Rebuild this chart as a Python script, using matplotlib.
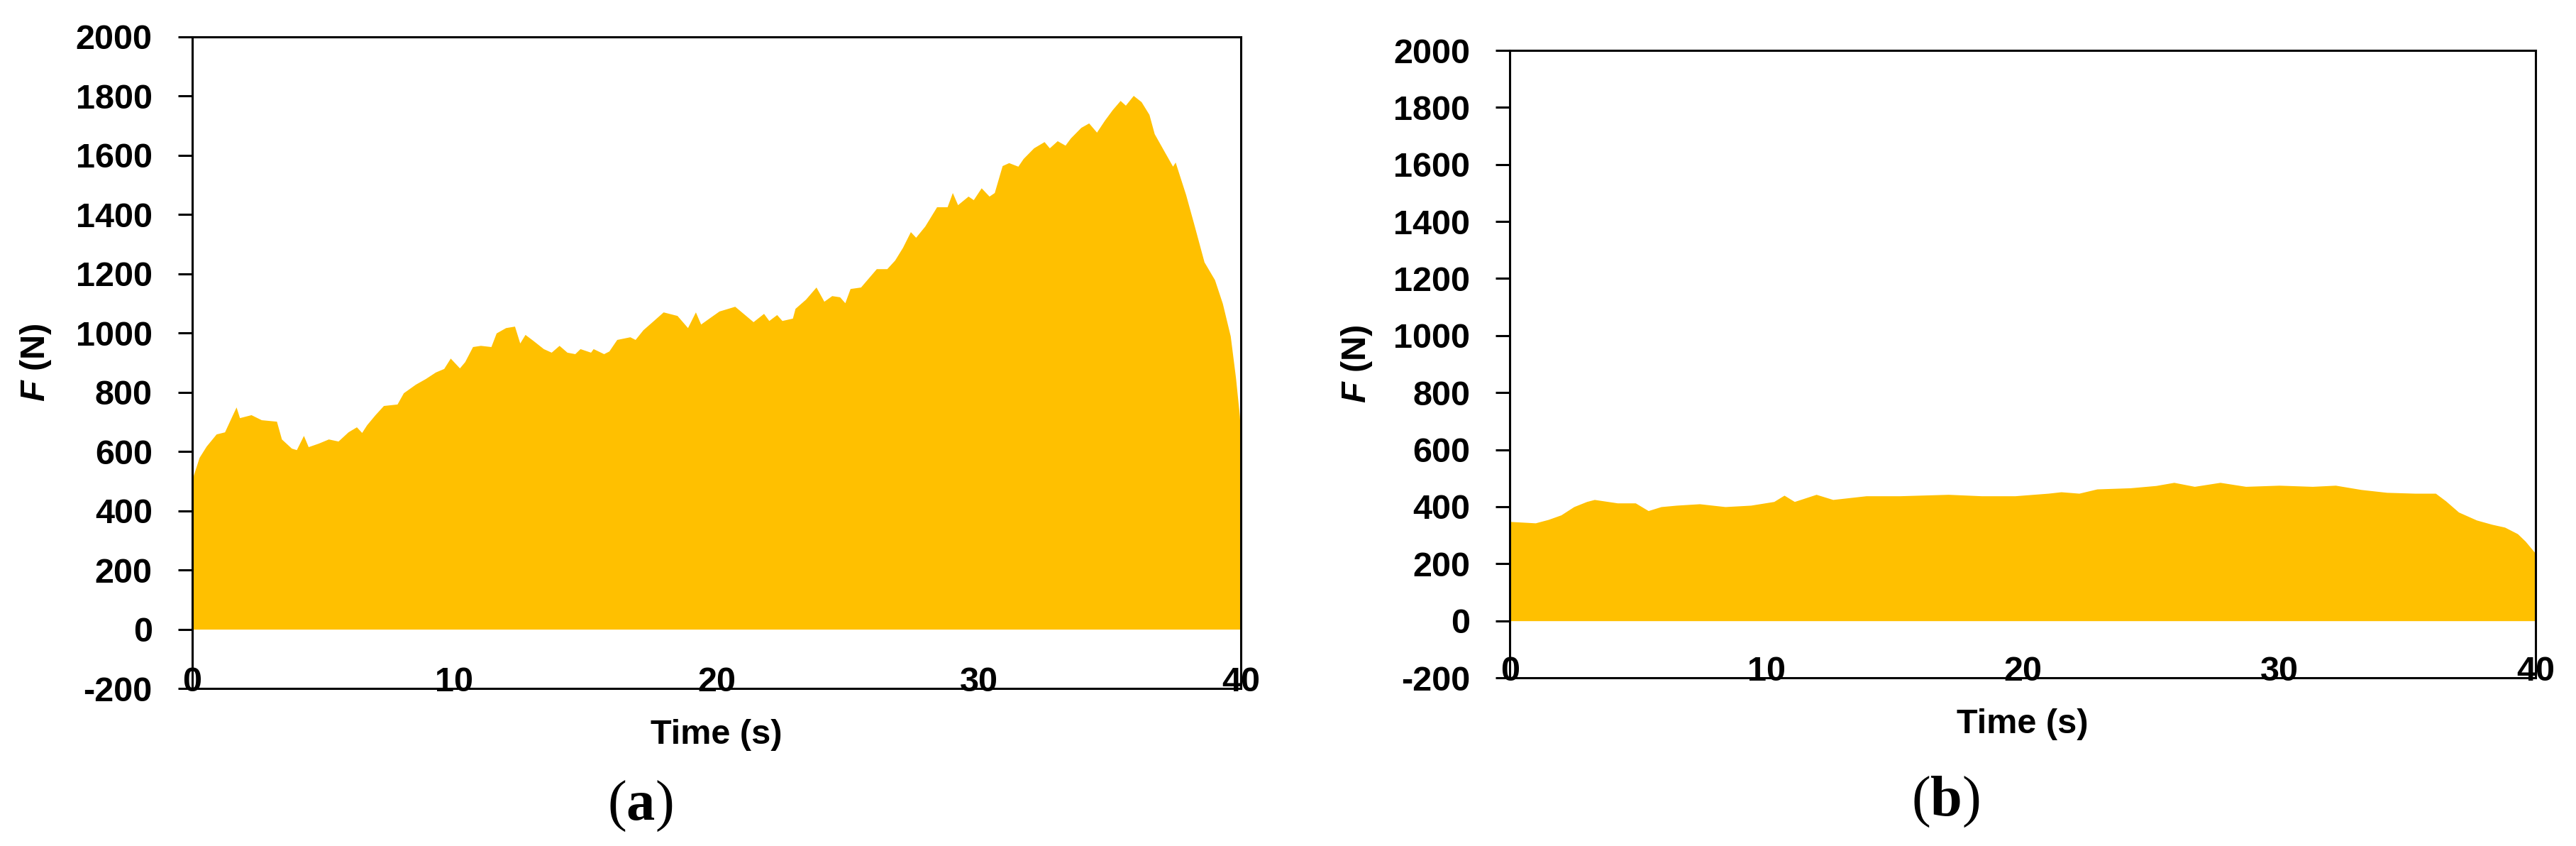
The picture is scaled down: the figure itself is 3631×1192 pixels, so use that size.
import matplotlib
matplotlib.use('Agg')
import matplotlib.pyplot as plt

# =====================================================================
# DATOS (envolvente de la fuerza)
# =====================================================================
t_a = [0.0, 0.05, 0.27, 0.54, 0.92, 1.24, 1.49, 1.68, 1.81, 2.25,
       2.64, 3.22, 3.41, 3.79, 3.98, 4.25, 4.43, 4.82, 5.2, 5.57,
       5.95, 6.27, 6.47, 6.66, 6.98, 7.3, 7.82, 8.06, 8.52, 8.9,
       9.28, 9.6, 9.85, 10.2, 10.4, 10.7, 11.0, 11.4, 11.6, 11.96,
       12.3, 12.5, 12.7, 13.0, 13.4, 13.7, 14.0, 14.3, 14.6, 14.8,
       15.2, 15.3, 15.7, 15.9, 16.2, 16.7, 16.9, 17.2, 17.6, 17.97,
       18.5, 18.9, 19.2, 19.4, 19.7, 20.1, 20.7, 21.4, 21.8, 22.0,
       22.3, 22.5, 22.9, 23.0, 23.4, 23.8, 24.1, 24.4, 24.7, 24.9,
       25.1, 25.5, 25.8, 26.1, 26.5, 26.8, 27.1, 27.4, 27.6, 27.95,
       28.4, 28.8, 29.0, 29.2, 29.6, 29.8, 30.1, 30.4, 30.6, 30.9,
       31.15, 31.5, 31.7, 32.1, 32.5, 32.7, 33.0, 33.3, 33.5, 33.9,
       34.2, 34.5, 34.8, 35.1, 35.4, 35.6, 35.9, 36.2, 36.5, 36.7,
       37.1, 37.4, 37.5, 37.9, 38.2, 38.6, 39.0, 39.3, 39.6, 39.8,
       39.95, 40.0]
f_a = [480, 520, 580, 618, 659, 666, 714, 750, 714, 724,
       707, 702, 642, 611, 606, 654, 616, 628, 642, 635,
       666, 683, 664, 690, 724, 755, 760, 798, 827, 846,
       868, 880, 915, 882, 903, 954, 958, 954, 1000, 1018,
       1023, 966, 995, 975, 947, 935, 958, 935, 930, 947,
       935, 947, 930, 939, 978, 987, 978, 1011, 1042, 1071,
       1059, 1018, 1071, 1030, 1049, 1074, 1090, 1038, 1066, 1042,
       1062, 1042, 1050, 1083, 1114, 1155, 1107, 1126, 1122, 1102,
       1150, 1155, 1186, 1217, 1217, 1246, 1289, 1342, 1323, 1361,
       1426, 1426, 1474, 1433, 1462, 1450, 1490, 1462, 1474, 1565,
       1575, 1563, 1589, 1625, 1646, 1625, 1649, 1634, 1658, 1694,
       1709, 1678, 1718, 1754, 1785, 1769, 1802, 1781, 1738, 1673,
       1610, 1563, 1577, 1467, 1371, 1240, 1180, 1100, 990, 850,
       720, 640]

t_b = [0.0, 1.0, 1.5, 2.0, 2.5, 3.0, 3.3, 4.2, 4.9, 5.4,
       5.9, 6.5, 7.4, 8.4, 9.4, 10.3, 10.7, 11.1, 11.95, 12.6,
       13.9, 15.2, 17.1, 18.4, 19.7, 21.0, 21.5, 22.2, 22.9, 24.2,
       25.2, 25.9, 26.7, 27.7, 28.7, 30.0, 31.3, 32.2, 33.2, 34.2,
       35.3, 36.1, 36.5, 37.0, 37.7, 38.3, 38.8, 39.3, 39.6, 40.0]
f_b = [348, 343, 355, 371, 400, 418, 425, 413, 413, 386,
       400, 405, 410, 400, 405, 418, 440, 418, 443, 425,
       438, 438, 443, 438, 438, 447, 452, 447, 462, 466,
       474, 485, 471, 485, 471, 475, 471, 475, 460, 450,
       447, 447, 420, 381, 353, 338, 328, 305, 279, 236]

X_TICKS = [0, 10, 20, 30, 40]
Y_TICKS = list(range(-200, 2001, 200))
COLOR = '#FFC000'

# =====================================================================
# ESTILO
# =====================================================================
plt.rcParams['font.family'] = ['Liberation Sans', 'DejaVu Sans']
plt.rcParams['axes.unicode_minus'] = False
plt.rcParams['mathtext.fontset'] = 'custom'
plt.rcParams['mathtext.rm'] = 'Liberation Serif'
plt.rcParams['mathtext.bf'] = 'Liberation Serif:bold'
plt.rcParams['mathtext.it'] = 'Liberation Sans:italic:bold'

fig = plt.figure(figsize=(36.31, 11.92), dpi=100, facecolor='white')

ax_a = fig.add_axes([0.0746, 0.1862, 0.4071, 0.7702])
ax_b = fig.add_axes([0.5861, 0.1988, 0.3982, 0.7416])


def dibujar(ax, t, f, y_time):
    ax.fill_between(t, 0, f, color=COLOR, lw=0)
    ax.set_xlim(0, 40)
    ax.set_ylim(-200, 2000)
    ax.set_xticks(X_TICKS)
    ax.set_yticks(Y_TICKS)
    for s in ax.spines.values():
        s.set_linewidth(2.2)
    ax.tick_params(axis='y', direction='out', length=14.4, width=2.2,
                   pad=26, labelsize=35)
    ax.tick_params(axis='x', length=0, pad=-22, labelsize=35)
    for lbl in ax.get_xticklabels() + ax.get_yticklabels():
        lbl.set_fontweight('bold')
    ax.set_ylabel(r'$\mathit{F}$ (N)', fontsize=35, fontweight='bold',
                  va='center')
    ax.yaxis.set_label_coords(-0.149, 0.5)
    ax.text(0.5, y_time, 'Time (s)', transform=ax.transAxes,
            ha='center', va='center', fontsize=35, fontweight='bold')


dibujar(ax_a, t_a, f_a, -0.071)
dibujar(ax_b, t_b, f_b, -0.074)

fig.text(0.2484, 0.047, r'$(\mathbf{a})$', fontsize=58,
         ha='center', va='center')
fig.text(0.7554, 0.052, r'$(\mathbf{b})$', fontsize=58,
         ha='center', va='center')

plt.savefig('out.png', dpi=100, facecolor='white')
